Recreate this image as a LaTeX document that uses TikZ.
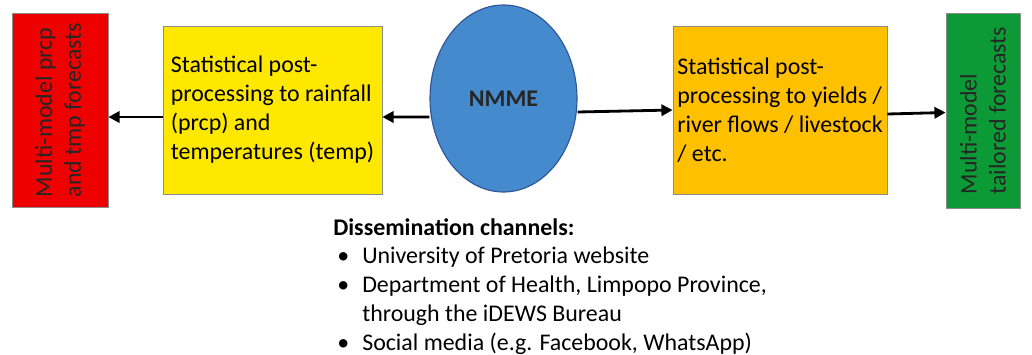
\documentclass[tikz,border=0pt]{standalone}
\usepackage{fontspec}
\setmainfont{Carlito}
\usepackage{xcolor}
\usepackage{tikz}
\usetikzlibrary{shapes.geometric, arrows.meta, positioning}
\definecolor{OutRed}{RGB}{238,0,0}
\definecolor{PostYellow}{RGB}{255,232,0}
\definecolor{NmmeBlue}{RGB}{70,138,206}
\definecolor{NmmeEdge}{RGB}{47,85,151}
\definecolor{PostOrange}{RGB}{255,192,0}
\definecolor{OutGreen}{RGB}{12,154,54}
\newcommand{\bodyfont}{\fontsize{17}{20.6}\selectfont}

\begin{document}
\begin{tikzpicture}[
  post/.style={draw=black!45, line width=0.5pt, minimum height=4.2cm,
               font=\bodyfont, align=left, inner sep=1pt},
  product/.style={draw=black!45, line width=0.5pt, rotate=90,
                  font=\bodyfont, text=black!85, align=left, inner sep=1pt},
  model/.style={ellipse, draw=NmmeEdge, line width=0.8pt, fill=NmmeBlue,
                minimum width=3.675cm, minimum height=4.675cm, inner sep=0pt,
                font=\bodyfont\bfseries, text=black!85},
  arr/.style={-{Triangle[length=8pt, width=8pt]}, line width=2pt, black},
]
\useasboundingbox (0,0) rectangle (25.8,-8.85);

% main chain
\node[product, fill=OutRed, minimum width=4.85cm, minimum height=2.4cm]
      (rawout)  at (1.5,-2.75)      {Multi-model prcp\\and tmp forecasts};
\node[post, fill=PostYellow, minimum width=5.475cm]
      (climpp)  at (6.8125,-2.75)   {Statistical post-\\processing to rainfall\\(prcp) and\\temperatures (temp)};
\node[model] (nmme) at (12.5875,-2.4625) {NMME};
\node[post, fill=PostOrange, minimum width=5.35cm]
      (sectpp)  at (19.5,-2.75)     {Statistical post-\\processing to yields /\\river flows / livestock\\/ etc.};
\node[product, fill=OutGreen, minimum width=4.875cm, minimum height=1.85cm]
      (tailout) at (24.575,-2.7625) {Multi-model\\tailored forecasts};

% dissemination list
\node[anchor=base west, inner sep=0pt, font=\bodyfont] (channels) at (8.325,-5.875)
  {\begin{tabular}[t]{@{}p{0.725cm}@{}l@{}}
   \multicolumn{2}{@{}l}{\textbf{Dissemination channels:}}\\
   \hspace*{0.1cm}\textbullet & University of Pretoria website\\
   \hspace*{0.1cm}\textbullet & Department of Health, Limpopo Province,\\
                              & through the iDEWS Bureau\\
   \hspace*{0.1cm}\textbullet & Social media (e.g. Facebook, WhatsApp)
   \end{tabular}};

\draw[arr] ([yshift=-0.175cm]climpp.west) -- ([yshift=-0.175cm]rawout.south);
\draw[arr] ([yshift=-0.4625cm]nmme.west)  -- ([yshift=-0.175cm]climpp.east);
\draw[arr] ([yshift=-0.3375cm]nmme.east)  -- (sectpp.west);
\draw[arr] ([yshift=-0.1cm]sectpp.east)   -- ([yshift=-0.05cm]tailout.north);
\end{tikzpicture}
\end{document}
